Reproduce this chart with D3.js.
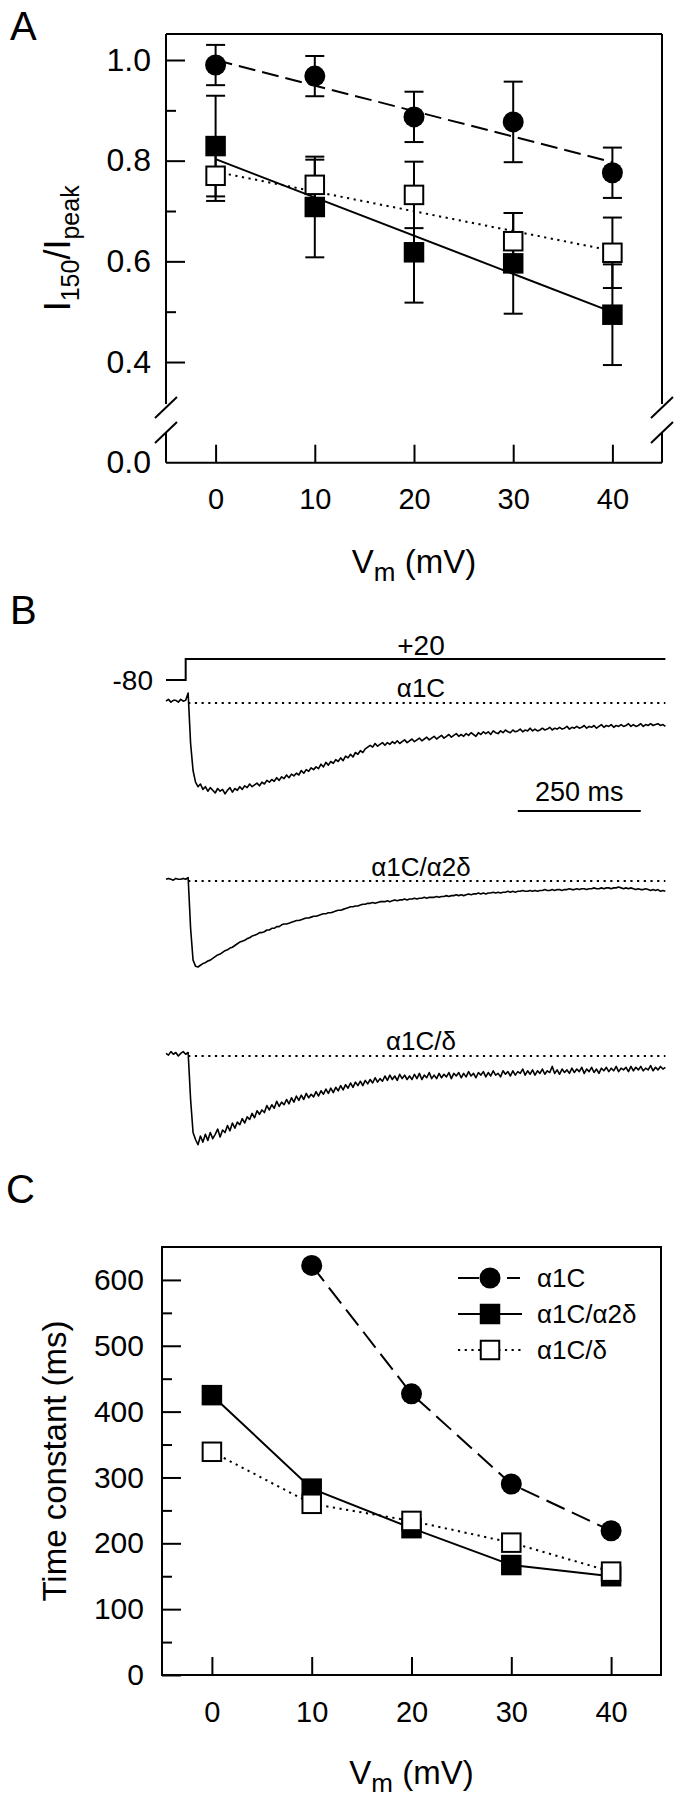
<!DOCTYPE html>
<html><head><meta charset="utf-8">
<script src="https://cdn.jsdelivr.net/npm/d3@7"></script>
<style>
html,body{margin:0;padding:0;background:#fff;}
svg{display:block;}
text{font-family:"Liberation Sans",Arial,sans-serif;fill:#000;}
</style></head><body>
<svg id="chart" width="684" height="1800"></svg>
<script>
// ---------------- DATA ----------------
const voltages = [0, 10, 20, 30, 40];
const seriesNames = ["α1C", "α1C/α2δ", "α1C/δ"];

// Panel A: I150/Ipeak
const ratioA1C      = [0.990, 0.968, 0.887, 0.877, 0.776];
const ratioA1CErr   = [0.040, 0.040, 0.050, 0.080, 0.050];
const ratioA2D      = [0.829, 0.708, 0.618, 0.596, 0.494];
const ratioA2DErr   = [0.100, 0.100, 0.100, 0.100, 0.100];
const ratioDelta    = [0.770, 0.752, 0.732, 0.640, 0.617];
const ratioDeltaErr = [0.050, 0.050, 0.066, 0.056, 0.070];
const fitVoltages   = [0, 40];
const fitA1C        = [1.000, 0.797];
const fitA2D        = [0.803, 0.499];
const fitDelta      = [0.778, 0.621];
const yTicksA       = [0.4, 0.6, 0.8, 1.0];
const yMinorA       = [0.5, 0.7, 0.9];
const yBreakLabelA  = "0.0";

// Panel B: voltage protocol and current traces (normalised to peak)
const stepTimes  = [0, 40, 40, 1015];
const stepMv     = [-80, -80, 20, 20];
const traceTimes = [0,5,10,15,20,25,30,35,40,45,50,55,60,65,70,75,80,85,90,95,
  100,105,110,115,120,125,130,135,140,145,150,155,160,165,170,175,180,185,190,195,
  200,205,210,215,220,225,230,235,240,245,250,255,260,265,270,275,280,285,290,295,
  300,305,310,315,320,325,330,335,340,345,350,355,360,365,370,375,380,385,390,395,
  400,405,410,415,420,425,430,435,440,445,450,455,460,465,470,475,480,485,490,495,
  500,505,510,515,520,525,530,535,540,545,550,555,560,565,570,575,580,585,590,595,
  600,605,610,615,620,625,630,635,640,645,650,655,660,665,670,675,680,685,690,695,
  700,705,710,715,720,725,730,735,740,745,750,755,760,765,770,775,780,785,790,795,
  800,805,810,815,820,825,830,835,840,845,850,855,860,865,870,875,880,885,890,895,
  900,905,910,915,920,925,930,935,940,945,950,955,960,965,970,975,980,985,990,995,
  1000,1005,1010,1015];
const traceA1C = [
  0.02,0.04,0.01,0.03,0.03,0.01,0.04,0.02,0.03,0.11,
  -0.45,-0.75,-0.88,-0.93,-0.9,-0.96,-0.93,-0.98,-0.94,-0.97,
  -1.0,-0.95,-0.98,-0.96,-1.01,-0.97,-0.94,-0.99,-0.95,-0.97,
  -0.93,-0.96,-0.92,-0.94,-0.9,-0.93,-0.91,-0.89,-0.92,-0.88,
  -0.9,-0.86,-0.88,-0.85,-0.87,-0.83,-0.86,-0.82,-0.84,-0.8,
  -0.83,-0.79,-0.81,-0.78,-0.8,-0.75,-0.78,-0.74,-0.76,-0.72,
  -0.74,-0.71,-0.73,-0.68,-0.71,-0.66,-0.69,-0.65,-0.67,-0.63,
  -0.65,-0.61,-0.64,-0.59,-0.61,-0.57,-0.6,-0.55,-0.57,-0.53,
  -0.55,-0.51,-0.49,-0.47,-0.49,-0.45,-0.48,-0.46,-0.44,-0.47,
  -0.44,-0.46,-0.43,-0.45,-0.42,-0.45,-0.43,-0.41,-0.44,-0.42,
  -0.4,-0.43,-0.41,-0.39,-0.42,-0.4,-0.38,-0.41,-0.39,-0.37,
  -0.4,-0.38,-0.36,-0.39,-0.37,-0.35,-0.38,-0.36,-0.34,-0.37,
  -0.35,-0.37,-0.34,-0.36,-0.33,-0.35,-0.37,-0.33,-0.35,-0.32,
  -0.34,-0.32,-0.35,-0.31,-0.33,-0.34,-0.31,-0.33,-0.3,-0.32,
  -0.33,-0.3,-0.32,-0.31,-0.29,-0.32,-0.3,-0.31,-0.28,-0.31,
  -0.29,-0.31,-0.3,-0.28,-0.3,-0.29,-0.27,-0.3,-0.28,-0.29,
  -0.27,-0.29,-0.28,-0.26,-0.29,-0.27,-0.28,-0.26,-0.28,-0.27,
  -0.25,-0.28,-0.26,-0.27,-0.25,-0.28,-0.26,-0.24,-0.27,-0.25,
  -0.26,-0.24,-0.27,-0.25,-0.26,-0.24,-0.26,-0.25,-0.23,-0.26,
  -0.24,-0.26,-0.25,-0.23,-0.26,-0.24,-0.25,-0.23,-0.25,-0.24,
  -0.23,-0.25,-0.24,-0.26];
const traceA2D = [
  0.02,0.03,0.02,0.01,0.03,0.02,0.02,0.03,0.02,0.04,
  -0.55,-0.92,-0.99,-1.0,-0.98,-0.96,-0.95,-0.93,-0.92,-0.9,
  -0.88,-0.86,-0.85,-0.83,-0.81,-0.8,-0.78,-0.77,-0.75,-0.73,
  -0.71,-0.7,-0.69,-0.67,-0.66,-0.64,-0.63,-0.62,-0.6,-0.6,
  -0.59,-0.57,-0.57,-0.55,-0.55,-0.53,-0.53,-0.51,-0.5,-0.5,
  -0.49,-0.48,-0.47,-0.46,-0.46,-0.45,-0.44,-0.43,-0.43,-0.42,
  -0.41,-0.41,-0.4,-0.39,-0.38,-0.38,-0.37,-0.37,-0.36,-0.35,
  -0.34,-0.34,-0.33,-0.32,-0.31,-0.3,-0.3,-0.29,-0.29,-0.28,
  -0.27,-0.27,-0.26,-0.26,-0.25,-0.26,-0.25,-0.24,-0.24,-0.24,
  -0.23,-0.24,-0.23,-0.22,-0.23,-0.22,-0.22,-0.21,-0.22,-0.21,
  -0.21,-0.2,-0.21,-0.2,-0.2,-0.19,-0.2,-0.19,-0.19,-0.19,
  -0.18,-0.19,-0.18,-0.18,-0.17,-0.18,-0.17,-0.17,-0.16,-0.17,
  -0.16,-0.17,-0.16,-0.15,-0.16,-0.15,-0.15,-0.14,-0.15,-0.14,
  -0.15,-0.14,-0.14,-0.13,-0.14,-0.13,-0.14,-0.13,-0.13,-0.12,
  -0.13,-0.12,-0.13,-0.12,-0.12,-0.11,-0.12,-0.12,-0.11,-0.12,
  -0.11,-0.12,-0.11,-0.11,-0.1,-0.11,-0.11,-0.1,-0.11,-0.1,
  -0.1,-0.11,-0.1,-0.1,-0.09,-0.1,-0.1,-0.09,-0.1,-0.09,
  -0.09,-0.1,-0.09,-0.09,-0.08,-0.09,-0.09,-0.08,-0.09,-0.08,
  -0.08,-0.09,-0.08,-0.08,-0.07,-0.08,-0.09,-0.08,-0.09,-0.08,
  -0.09,-0.1,-0.09,-0.1,-0.1,-0.09,-0.1,-0.11,-0.1,-0.11,
  -0.1,-0.12,-0.11,-0.12];
const traceDelta = [
  0.03,0.01,0.05,0.02,0.04,0.0,0.03,0.05,0.02,0.04,
  -0.5,-0.88,-0.96,-1.02,-0.92,-0.99,-0.9,-0.97,-0.88,-0.95,
  -0.9,-0.84,-0.93,-0.85,-0.88,-0.8,-0.86,-0.77,-0.83,-0.76,
  -0.79,-0.72,-0.77,-0.7,-0.73,-0.66,-0.71,-0.63,-0.67,-0.62,
  -0.65,-0.57,-0.62,-0.56,-0.6,-0.52,-0.58,-0.53,-0.56,-0.5,
  -0.55,-0.48,-0.53,-0.46,-0.51,-0.45,-0.5,-0.43,-0.48,-0.44,
  -0.47,-0.41,-0.46,-0.4,-0.44,-0.38,-0.43,-0.37,-0.42,-0.36,
  -0.4,-0.34,-0.39,-0.33,-0.37,-0.31,-0.36,-0.3,-0.34,-0.29,
  -0.34,-0.28,-0.32,-0.27,-0.31,-0.25,-0.3,-0.26,-0.29,-0.23,
  -0.28,-0.22,-0.27,-0.23,-0.28,-0.21,-0.26,-0.22,-0.27,-0.23,
  -0.27,-0.21,-0.26,-0.2,-0.27,-0.22,-0.25,-0.19,-0.26,-0.22,
  -0.26,-0.2,-0.25,-0.21,-0.24,-0.19,-0.26,-0.2,-0.23,-0.19,
  -0.25,-0.2,-0.24,-0.18,-0.23,-0.2,-0.25,-0.19,-0.22,-0.18,
  -0.24,-0.19,-0.23,-0.17,-0.22,-0.2,-0.24,-0.17,-0.21,-0.18,
  -0.23,-0.17,-0.22,-0.18,-0.2,-0.15,-0.22,-0.17,-0.21,-0.16,
  -0.22,-0.17,-0.2,-0.15,-0.21,-0.17,-0.19,-0.12,-0.2,-0.16,
  -0.21,-0.15,-0.19,-0.16,-0.2,-0.14,-0.19,-0.15,-0.18,-0.13,
  -0.2,-0.15,-0.18,-0.13,-0.19,-0.15,-0.2,-0.14,-0.17,-0.13,
  -0.18,-0.14,-0.17,-0.12,-0.18,-0.14,-0.16,-0.13,-0.18,-0.12,
  -0.17,-0.13,-0.16,-0.12,-0.17,-0.14,-0.16,-0.11,-0.17,-0.13,
  -0.16,-0.12,-0.15,-0.13];
const scaleBarMs = [715, 965];

// Panel C: time constants (ms)
const tauA1C   = [null, 622, 427, 290, 219];
const tauA2D   = [425, 283, 223, 167, 150];
const tauDelta = [339, 260, 234, 201, 157];
const yTicksC  = [0, 100, 200, 300, 400, 500, 600];
const yMinorC  = [50, 150, 250, 350, 450, 550];

// ---------------- DRAWING ----------------
const svg = d3.select("#chart");
const FONT = "Liberation Sans, Arial, sans-serif";
function styleAxis(g, size) {
  g.select(".domain").remove();
  g.selectAll(".tick line").attr("stroke", "#000").attr("stroke-width", 2);
  g.selectAll(".tick text").style("font-size", size + "px").style("font-family", FONT).attr("fill", "#000");
}
function panelLetter(txt, x, y) {
  svg.append("text").attr("x", x).attr("y", y).style("font-size", "40px").text(txt);
}
function drawMarkers(g, xs, ys, kind, x, y) {
  const pts = xs.map((v, i) => [v, ys[i]]).filter(d => d[1] != null);
  if (kind === "circle") {
    g.selectAll(null).data(pts).enter().append("circle")
      .attr("cx", d => x(d[0])).attr("cy", d => y(d[1])).attr("r", 10.5).attr("fill", "#000");
  } else {
    const s = 18.5;
    g.selectAll(null).data(pts).enter().append("rect")
      .attr("x", d => x(d[0]) - s / 2).attr("y", d => y(d[1]) - s / 2)
      .attr("width", s).attr("height", s)
      .attr("fill", kind === "open" ? "#fff" : "#000")
      .attr("stroke", "#000").attr("stroke-width", 2);
  }
}
function drawErr(g, xs, ys, es, x, y) {
  const pts = xs.map((v, i) => ({ v, m: ys[i], e: es[i] }));
  pts.forEach(p => {
    g.append("line").attr("x1", x(p.v)).attr("x2", x(p.v)).attr("y1", y(p.m + p.e)).attr("y2", y(p.m - p.e))
      .attr("stroke", "#000").attr("stroke-width", 2);
    [p.m + p.e, p.m - p.e].forEach(val => {
      g.append("line").attr("x1", x(p.v) - 9.5).attr("x2", x(p.v) + 9.5).attr("y1", y(val)).attr("y2", y(val))
        .attr("stroke", "#000").attr("stroke-width", 2);
    });
  });
}
const dashStyle = { dash: "17,7", dot: "2.2,4.5", solid: null };

// ===== Panel A =====
panelLetter("A", 10, 40);
const xA = d3.scaleLinear().domain([-5, 45]).range([166, 662]);
const yA = d3.scaleLinear().domain([0.2, 1.0]).range([462.7, 60]);
const gA = svg.append("g");
const [aL, aR] = xA.range();
const aT = 34, aB = yA.range()[0];
const frameA = [
  [aL, aT, aR, aT], [aL, aB, aR, aB],
  [aL, aT, aL, 404], [aL, 432, aL, aB],
  [aR, aT, aR, 404], [aR, 432, aR, aB],
  [aL - 11, 418, aL + 11, 397], [aL - 11, 443, aL + 11, 422],
  [aR - 11, 418, aR + 11, 397], [aR - 11, 443, aR + 11, 422]
];
frameA.forEach(s => gA.append("line").attr("x1", s[0]).attr("y1", s[1]).attr("x2", s[2]).attr("y2", s[3])
  .attr("stroke", "#000").attr("stroke-width", 2));
gA.append("g").attr("transform", `translate(${aL},0)`)
  .call(d3.axisLeft(yA).tickValues(yTicksA).tickSize(-19).tickPadding(15).tickFormat(d3.format(".1f")))
  .call(g => styleAxis(g, 32));
gA.append("g").attr("transform", `translate(${aL},0)`)
  .call(d3.axisLeft(yA).tickValues(yMinorA).tickSize(-10).tickFormat(""))
  .call(g => styleAxis(g, 32));
gA.append("text").attr("x", aL - 15).attr("y", aB).attr("dy", "0.32em").attr("text-anchor", "end")
  .style("font-size", "32px").text(yBreakLabelA);
gA.append("g").attr("transform", `translate(0,${aB})`)
  .call(d3.axisBottom(xA).tickValues(voltages).tickSize(-18).tickPadding(26))
  .call(g => styleAxis(g, 29));
const yLabA = gA.append("text").attr("transform", `translate(70,${(aT + aB) / 2}) rotate(-90)`)
  .attr("text-anchor", "middle").style("font-size", "36px");
yLabA.append("tspan").text("I");
yLabA.append("tspan").attr("dy", 9).style("font-size", "25px").text("150");
yLabA.append("tspan").attr("dy", -9).text("/I");
yLabA.append("tspan").attr("dy", 9).style("font-size", "25px").text("peak");
function vmLabel(g, cx, y) {
  const t = g.append("text").attr("x", cx).attr("y", y).attr("text-anchor", "middle").style("font-size", "33px");
  t.append("tspan").text("V");
  t.append("tspan").attr("dy", 8).style("font-size", "26px").text("m");
  t.append("tspan").attr("dy", -8).text(" (mV)");
}
vmLabel(gA, (aL + aR) / 2, 573);
const lineA = d3.line().x((d, i) => xA(fitVoltages[i])).y(d => yA(d));
[[fitA1C, dashStyle.dash], [fitA2D, null], [fitDelta, dashStyle.dot]].forEach(([f, da]) => {
  gA.append("path").attr("d", lineA(f)).attr("fill", "none").attr("stroke", "#000").attr("stroke-width", 2)
    .attr("stroke-dasharray", da);
});
drawErr(gA, voltages, ratioA1C, ratioA1CErr, xA, yA);
drawErr(gA, voltages, ratioA2D, ratioA2DErr, xA, yA);
drawErr(gA, voltages, ratioDelta, ratioDeltaErr, xA, yA);
drawMarkers(gA, voltages, ratioA1C, "circle", xA, yA);
drawMarkers(gA, voltages, ratioA2D, "filled", xA, yA);
drawMarkers(gA, voltages, ratioDelta, "open", xA, yA);

// ===== Panel B =====
panelLetter("B", 10, 624);
const tB = d3.scaleLinear().domain([0, 1000]).range([166, 658]);
const gB = svg.append("g");
const vStep = d3.scaleLinear().domain([-80, 20]).range([680, 659]);
gB.append("path").attr("d", d3.line().x((d, i) => tB(stepTimes[i])).y(d => vStep(d))(stepMv))
  .attr("fill", "none").attr("stroke", "#000").attr("stroke-width", 2);
gB.append("text").attr("x", 153).attr("y", vStep(-80)).attr("dy", "0.35em").attr("text-anchor", "end")
  .style("font-size", "28px").text("-80");
gB.append("text").attr("x", 421).attr("y", 655).attr("text-anchor", "middle").style("font-size", "28px").text("+20");
const traces = [
  { name: seriesNames[0], vals: traceA1C, base: 703, peak: 793, labY: 697 },
  { name: seriesNames[1], vals: traceA2D, base: 881, peak: 967, labY: 876 },
  { name: seriesNames[2], vals: traceDelta, base: 1056, peak: 1143, labY: 1050 }
];
traces.forEach(tr => {
  const yS = d3.scaleLinear().domain([-1, 0]).range([tr.peak, tr.base]);
  gB.append("line").attr("x1", tB(45)).attr("x2", tB(1015)).attr("y1", yS(0)).attr("y2", yS(0))
    .attr("stroke", "#000").attr("stroke-width", 2).attr("stroke-dasharray", dashStyle.dot);
  gB.append("path").attr("d", d3.line().x((d, i) => tB(traceTimes[i])).y(d => yS(d))(tr.vals))
    .attr("fill", "none").attr("stroke", "#000").attr("stroke-width", 1.6).attr("stroke-linejoin", "round");
  gB.append("text").attr("x", 421).attr("y", tr.labY).attr("text-anchor", "middle").style("font-size", "26px").text(tr.name);
});
gB.append("line").attr("x1", tB(scaleBarMs[0])).attr("x2", tB(scaleBarMs[1])).attr("y1", 811).attr("y2", 811)
  .attr("stroke", "#000").attr("stroke-width", 2);
gB.append("text").attr("x", (tB(scaleBarMs[0]) + tB(scaleBarMs[1])) / 2).attr("y", 801).attr("text-anchor", "middle")
  .style("font-size", "27px").text((scaleBarMs[1] - scaleBarMs[0]) + " ms");

// ===== Panel C =====
panelLetter("C", 6, 1203);
const xC = d3.scaleLinear().domain([-5, 45]).range([162, 661]);
const yC = d3.scaleLinear().domain([0, 650]).range([1675, 1247]);
const gC = svg.append("g");
gC.append("rect").attr("x", 162).attr("y", yC(650)).attr("width", 661 - 162).attr("height", yC(0) - yC(650))
  .attr("fill", "none").attr("stroke", "#000").attr("stroke-width", 2);
gC.append("g").attr("transform", `translate(162,0)`)
  .call(d3.axisLeft(yC).tickValues(yTicksC).tickSize(-19).tickPadding(18))
  .call(g => styleAxis(g, 30));
gC.append("g").attr("transform", `translate(162,0)`)
  .call(d3.axisLeft(yC).tickValues(yMinorC).tickSize(-10).tickFormat(""))
  .call(g => styleAxis(g, 30));
gC.append("g").attr("transform", `translate(0,${yC(0)})`)
  .call(d3.axisBottom(xC).tickValues(voltages).tickSize(-18).tickPadding(26))
  .call(g => styleAxis(g, 29));
gC.append("text").attr("transform", `translate(66,${(yC(0) + yC(650)) / 2}) rotate(-90)`)
  .attr("text-anchor", "middle").style("font-size", "33px").text("Time constant (ms)");
vmLabel(gC, (162 + 661) / 2, 1784);
const lineC = d3.line().defined(d => d[1] != null).x(d => xC(d[0])).y(d => yC(d[1]));
const seriesC = [
  { vals: tauA1C, dash: "20,8", kind: "circle", legDash: "21,28,13" },
  { vals: tauA2D, dash: null, kind: "filled", legDash: null },
  { vals: tauDelta, dash: dashStyle.dot, kind: "open", legDash: dashStyle.dot }
];
seriesC.forEach(s => {
  gC.append("path").attr("d", lineC(voltages.map((v, i) => [v, s.vals[i]])))
    .attr("fill", "none").attr("stroke", "#000").attr("stroke-width", 2).attr("stroke-dasharray", s.dash);
});
seriesC.forEach(s => drawMarkers(gC, voltages, s.vals, s.kind, xC, yC));
const legY = [1278, 1314, 1350];
seriesC.forEach((s, i) => {
  const y = legY[i];
  const lg = gC.append("g");
  lg.append("line").attr("x1", 458).attr("x2", 522).attr("y1", y).attr("y2", y)
    .attr("stroke", "#000").attr("stroke-width", 2).attr("stroke-dasharray", s.legDash);
  drawMarkers(lg, [0], [0], s.kind, () => 490, () => y);
  lg.append("text").attr("x", 537).attr("y", y).attr("dy", "0.36em").style("font-size", "26px").text(seriesNames[i]);
});
</script>
</body></html>
